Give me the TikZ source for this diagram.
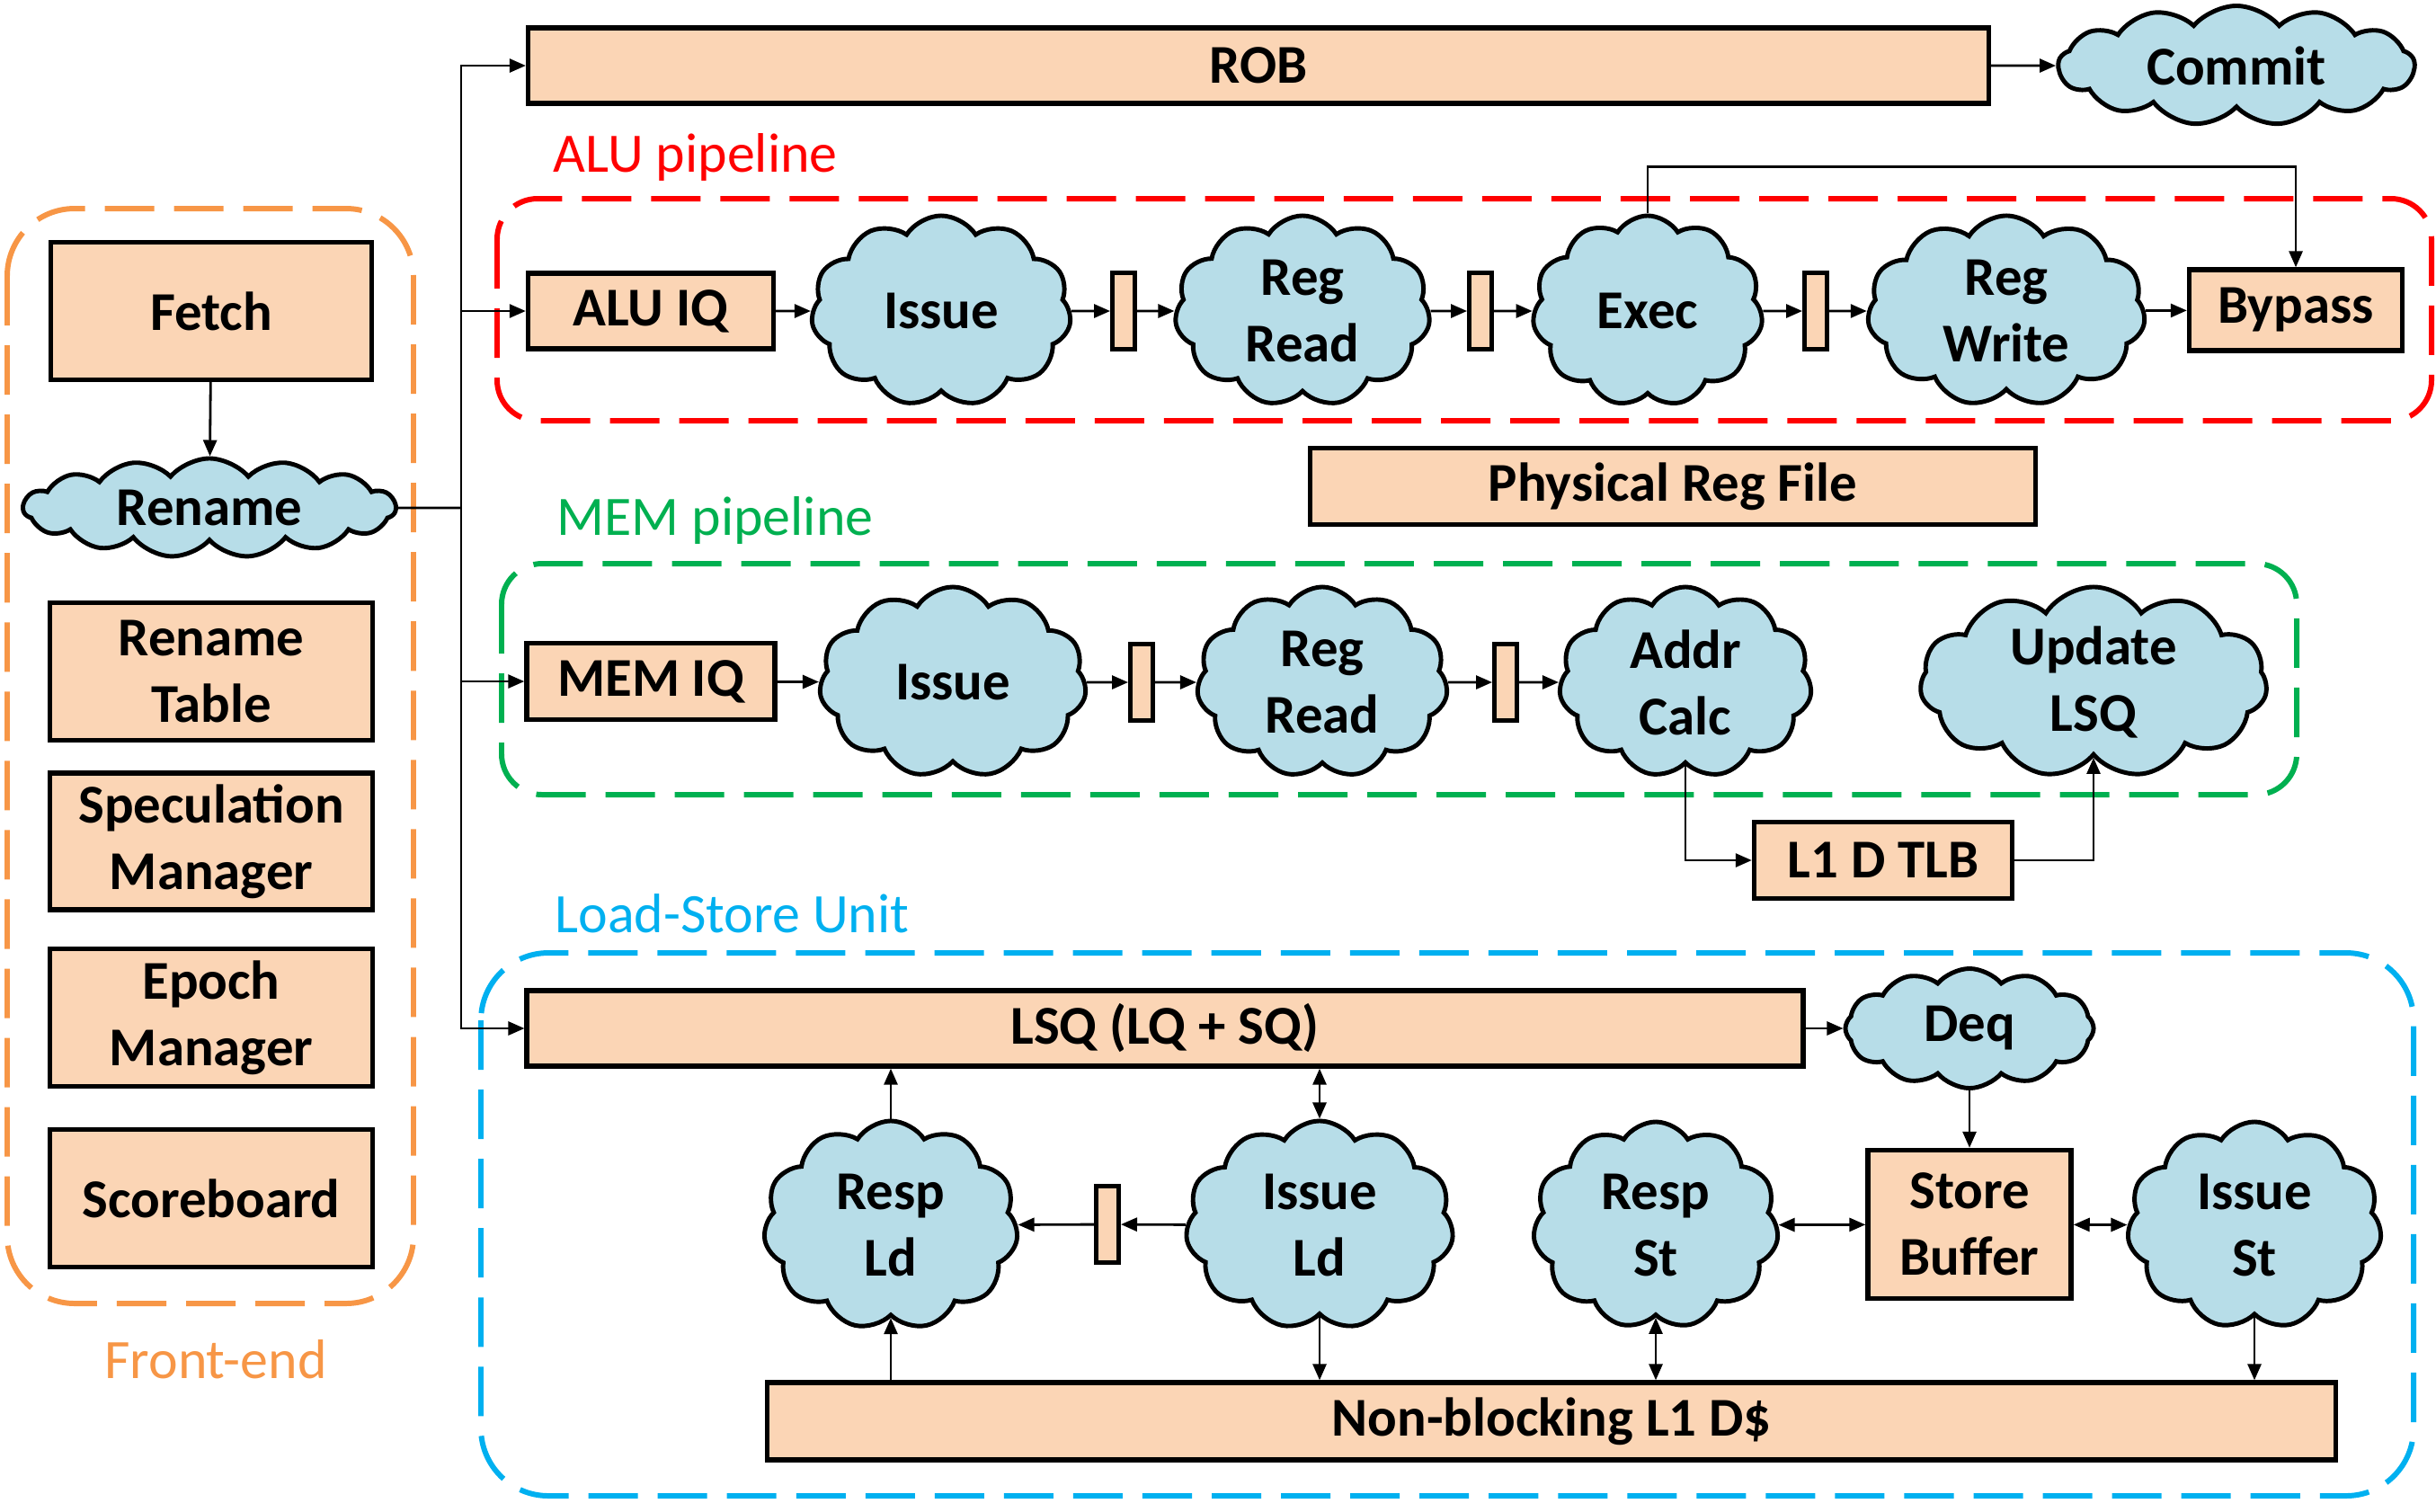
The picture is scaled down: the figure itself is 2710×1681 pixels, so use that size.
\documentclass[tikz,border=0pt]{standalone}
\usepackage{fontspec}
\setmainfont{Carlito}
\usetikzlibrary{arrows.meta,shapes.symbols}
\definecolor{stagefill}{HTML}{FBD5B5}
\definecolor{cloudfill}{HTML}{B7DDE8}
\definecolor{feedge}{HTML}{F79646}
\definecolor{aluedge}{HTML}{FF0000}
\definecolor{memedge}{HTML}{00B050}
\definecolor{lsuedge}{HTML}{00B0F0}

\begin{document}
\begin{tikzpicture}[x=0.01cm,y=-0.01cm,
  box/.style={draw,line width=1.5pt,fill=stagefill,align=center,inner sep=1pt,font=\fontsize{17.3}{21}\selectfont\bfseries},
  puff/.style={cloud,cloud puffs=11,cloud puff arc=115,cloud ignores aspect,draw,line width=1.4pt,fill=cloudfill,align=center,inner sep=0pt,font=\fontsize{17.3}{21}\selectfont\bfseries},
  flatpuff/.style={puff,cloud puffs=15,cloud puff arc=100},
  latch/.style={draw,line width=1.4pt,fill=stagefill,minimum width=0.25cm,minimum height=0.85cm,inner sep=0pt},
  flow/.style={-{Triangle[length=0.18cm,width=0.15cm]},line width=0.8pt},
  dflow/.style={{Triangle[length=0.18cm,width=0.15cm]}-{Triangle[length=0.18cm,width=0.15cm]},line width=0.8pt},
  wire/.style={line width=0.8pt},
  lane/.style={dash pattern=on 0.55cm off 0.22cm,line width=1.7pt},
  lbl/.style={font=\fontsize{17.6}{21}\selectfont,inner sep=0pt}]
  \useasboundingbox (0,0) rectangle (2710,1681);

  % ===== lanes =====
  \draw[lane,feedge,rounded corners=0.75cm] (8,232) rectangle (460,1450);
  \node[lbl,text=feedge] (felbl) at (240,1512) {Front-end};
  \draw[lane,aluedge,rounded corners=0.45cm] (553,221) rectangle (2705,468);
  \node[lbl,text=aluedge,anchor=west] (alulbl) at (615,175) {ALU pipeline};
  \draw[lane,memedge,rounded corners=0.45cm] (558,627) rectangle (2555,884);
  \node[lbl,text=memedge,anchor=west] (memlbl) at (619,579) {MEM pipeline};
  \draw[lane,lsuedge,rounded corners=0.75cm] (535,1060) rectangle (2685,1664);
  \node[lbl,text=lsuedge,anchor=west] (lsulbl) at (617,1016) {Load-Store Unit};

  % ===== front-end =====
  \node[box,minimum width=3.57cm,minimum height=1.53cm] (fetch) at (235,346) {Fetch};
  \node[flatpuff,minimum width=4.14cm,minimum height=1.10cm] (rename) at (233,565) {Rename};
  \node[box,minimum width=3.59cm,minimum height=1.53cm] (rtable) at (235,747) {Rename\\Table};
  \node[box,minimum width=3.59cm,minimum height=1.52cm] (spec) at (235,936) {Speculation\\Manager};
  \node[box,minimum width=3.59cm,minimum height=1.53cm] (epoch) at (235,1132) {Epoch\\Manager};
  \node[box,minimum width=3.59cm,minimum height=1.53cm] (score) at (235,1333) {Scoreboard};
  \draw[flow] (fetch) -- (rename);

  % ===== ROB / commit =====
  \node[box,minimum width=16.24cm,minimum height=0.84cm] (rob) at (1400,73) {ROB};
  \node[flatpuff,cloud puffs=13,minimum width=3.96cm,minimum height=1.33cm] (commit) at (2488,73) {Commit};
  \draw[flow] (rob) -- (commit);

  % ===== ALU pipeline =====
  \node[box,minimum width=2.73cm,minimum height=0.84cm] (aluiq) at (724,346) {ALU IQ};
  \node[puff,minimum width=2.89cm,minimum height=2.12cm] (aissue) at (1047,346) {Issue};
  \node[latch] (al1) at (1250,346) {};
  \node[puff,minimum width=2.84cm,minimum height=2.12cm] (aread) at (1449,346) {Reg\\Read};
  \node[latch] (al2) at (1647,346) {};
  \node[puff,minimum width=2.56cm,minimum height=2.12cm] (exec) at (1833,346) {Exec};
  \node[latch] (al3) at (2020,346) {};
  \node[puff,minimum width=3.09cm,minimum height=2.12cm] (awrite) at (2232,346) {Reg\\Write};
  \node[box,minimum width=2.37cm,minimum height=0.90cm] (bypass) at (2554,345) {Bypass};
  \draw[flow] (aluiq) -- (aissue);
  \draw[flow] (aissue) -- (al1);
  \draw[flow] (al1) -- (aread);
  \draw[flow] (aread) -- (al2);
  \draw[flow] (al2) -- (exec);
  \draw[flow] (exec) -- (al3);
  \draw[flow] (al3) -- (awrite);
  \draw[flow] (awrite) -- (bypass);
  \draw[flow] (exec.north) -- ++(0,-52) -| (bypass.north);

  \node[box,minimum width=8.06cm,minimum height=0.85cm] (prf) at (1861,541) {Physical Reg File};

  % ===== MEM pipeline =====
  \node[box,minimum width=2.76cm,minimum height=0.85cm] (memiq) at (724,758) {MEM IQ};
  \node[puff,minimum width=2.97cm,minimum height=2.12cm] (missue) at (1060,759) {Issue};
  \node[latch] (ml1) at (1270,759) {};
  \node[puff,minimum width=2.79cm,minimum height=2.12cm] (mread) at (1471,759) {Reg\\Read};
  \node[latch] (ml2) at (1675,759) {};
  \node[puff,minimum width=2.81cm,minimum height=2.12cm] (addr) at (1875,759) {Addr\\Calc};
  \node[puff,minimum width=3.86cm,minimum height=2.12cm] (upd) at (2329,759) {Update\\LSQ};
  \node[box,minimum width=2.87cm,minimum height=0.85cm] (tlb) at (2095,957) {L1 D TLB};
  \draw[flow] (memiq) -- (missue);
  \draw[flow] (missue) -- (ml1);
  \draw[flow] (ml1) -- (mread);
  \draw[flow] (mread) -- (ml2);
  \draw[flow] (ml2) -- (addr);
  \draw[flow] (addr.south) |- (tlb.west);
  \draw[flow] (tlb.east) -| (upd.south);

  % ===== dispatch bus =====
  \coordinate (bus) at (513,565);
  \draw[wire] (rename.east) -- (bus);
  \draw[flow] (bus) |- (rob.west);
  \draw[flow] (bus) |- (aluiq.west);
  \draw[flow] (bus) |- (memiq.west);

  % ===== load-store unit =====
  \node[box,minimum width=14.19cm,minimum height=0.84cm] (lsq) at (1296,1144) {LSQ (LQ + SQ)};
  \node[flatpuff,cloud puffs=12,minimum width=2.76cm,minimum height=1.33cm] (deq) at (2191,1144) {Deq};
  \node[box,minimum width=2.26cm,minimum height=1.65cm] (sb) at (2191,1362) {Store\\Buffer};
  \node[puff,minimum width=2.83cm,minimum height=2.32cm] (respld) at (991,1363) {Resp\\Ld};
  \node[latch] (ll1) at (1232,1362) {};
  \node[puff,minimum width=2.98cm,minimum height=2.32cm] (issueld) at (1468,1363) {Issue\\Ld};
  \node[puff,minimum width=2.73cm,minimum height=2.30cm] (respst) at (1842,1363) {Resp\\St};
  \node[puff,minimum width=2.83cm,minimum height=2.30cm] (issuest) at (2508,1363) {Issue\\St};
  \node[box,minimum width=17.44cm,minimum height=0.86cm] (l1d) at (1726,1581) {Non-blocking L1 D\$};
  \draw[flow] (bus) |- (lsq.west);
  \draw[flow] (lsq) -- (deq);
  \draw[flow] (deq) -- (sb);
  \draw[flow] (respld.north) -- (respld.north |- lsq.south);
  \draw[dflow] (issueld.north) -- (issueld.north |- lsq.south);
  \draw[flow] (issueld) -- (ll1);
  \draw[flow] (ll1) -- (respld);
  \draw[flow] (respld.south |- l1d.north) -- (respld.south);
  \draw[flow] (issueld.south) -- (issueld.south |- l1d.north);
  \draw[dflow] (respst.south) -- (respst.south |- l1d.north);
  \draw[dflow] (respst) -- (sb);
  \draw[dflow] (sb) -- (issuest);
  \draw[flow] (issuest.south) -- (issuest.south |- l1d.north);
\end{tikzpicture}
\end{document}
